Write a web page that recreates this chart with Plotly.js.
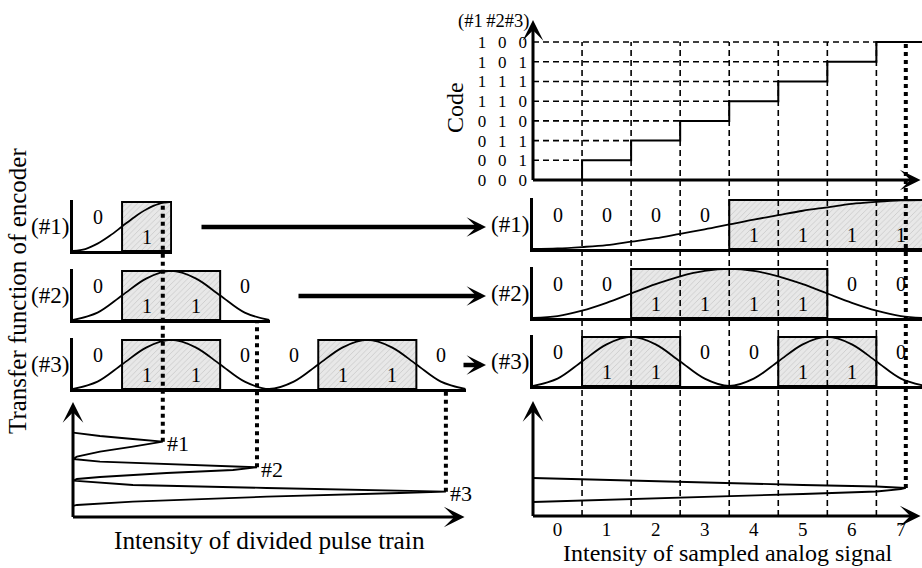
<!DOCTYPE html>
<html>
<head>
<meta charset="utf-8">
<script src="https://cdn.plot.ly/plotly-3.0.1.min.js"></script>
<style>
  html, body { margin: 0; padding: 0; background: #fff; }
  #chart { width: 922px; height: 568px; }
</style>
</head>
<body>
<div id="chart"></div>
<script>
// Sampled signal levels and their 3-bit Gray codes (#1 #2 #3)
const levels = [0, 1, 2, 3, 4, 5, 6, 7];
const codes = ['000', '001', '011', '010', '110', '111', '101', '100'];

// Encoder transfer functions versus sampled analog intensity, every 0.5 level
const gridR = [-0.5, 0, 0.5, 1, 1.5, 2, 2.5, 3, 3.5, 4, 4.5, 5, 5.5, 6, 6.5, 7, 7.5];
const enc1 = [0, 0.01, 0.04, 0.08, 0.15, 0.22, 0.31, 0.40, 0.5, 0.60, 0.69, 0.78, 0.85, 0.92, 0.96, 0.99, 1];
const enc2 = [0, 0.04, 0.15, 0.31, 0.5, 0.69, 0.85, 0.96, 1, 0.96, 0.85, 0.69, 0.5, 0.31, 0.15, 0.04, 0];
const enc3 = [0, 0.15, 0.5, 0.85, 1, 0.85, 0.5, 0.15, 0, 0.15, 0.5, 0.85, 1, 0.85, 0.5, 0.15, 0];

// Encoder transfer functions versus divided pulse intensity
const gridL1 = [-0.5, -0.25, 0, 0.25, 0.5, 0.75, 1, 1.25, 1.5];
const encL1 = [0, 0.04, 0.15, 0.31, 0.5, 0.69, 0.85, 0.96, 1];
const gridL2 = [-0.5, 0, 0.5, 1, 1.5, 2, 2.5, 3, 3.5];
const encL2 = [0, 0.15, 0.5, 0.85, 1, 0.85, 0.5, 0.15, 0];
const gridL3 = gridR;
const encL3 = [0, 0.15, 0.5, 0.85, 1, 0.85, 0.5, 0.15, 0, 0.15, 0.5, 0.85, 1, 0.85, 0.5, 0.15, 0];
const bitsL1 = [0, 1];
const bitsL2 = [0, 1, 1, 0];
const bitsL3 = [0, 1, 1, 0, 0, 1, 1, 0];

// Divided pulse train: intensity (x) against time (t)
const pulseX = [-0.5, 0.05, 0.72, 1.33, 0.72, 0.05, -0.42, -0.5,
                0.05, 1.41, 2.76, 3.25, 2.76, 1.41, 0.05, -0.42, -0.5,
                0.72, 3.45, 6.16, 7.1, 6.16, 3.45, 0.72, -0.42, -0.5];
const pulseT = [84.3, 81, 78, 75.3, 70.3, 65.3, 60.3, 58,
                55.3, 53, 51, 49.7, 47, 44, 40, 38, 36.3,
                32, 29, 26, 25.3, 24, 20.3, 15.3, 12, 11];
const peakNames = ['#1', '#2', '#3'];
const peakX = [1.33, 3.25, 7.1];
const peakT = [75.3, 49.7, 25.3];

// Sampled analog pulse
const sampleX = [-0.5, 1, 3, 5, 6.5, 7.0, 7.1, 7.0, 6.5, 5, 3, 1, -0.5];
const sampleT = [38, 36, 33.5, 31, 29.5, 28.8, 28, 26.8, 24.5, 22, 19, 16.2, 14];
const samplePeakX = 7.1;
const samplePeakT = 28;

// ---------------------------------------------------------------------------
const W = 922, H = 568;
const FONT = 'Liberation Serif, "Times New Roman", serif';
const fx = px => px / W;
const fy = py => 1 - py / H;

// Panel geometry (pixel extents) and axis ranges
const P = {
  code: {id: '',  xpx: [533, 922],   xr: [-0.5, 7.43], ypx: [180, 20],  yr: [0, 8.12]},
  r1:   {id: '2', xpx: [533, 922],   xr: [-0.5, 7.43], ypx: [249, 198], yr: [0, 1.04], frame: true},
  r2:   {id: '3', xpx: [533, 922],   xr: [-0.5, 7.43], ypx: [318, 267], yr: [0, 1.04], frame: true},
  r3:   {id: '4', xpx: [533, 922],   xr: [-0.5, 7.43], ypx: [386, 335], yr: [0, 1.04], frame: true},
  rb:   {id: '5', xpx: [533, 922],   xr: [-0.5, 7.43], ypx: [516, 401], yr: [0, 115]},
  l1:   {id: '6', xpx: [73, 172.1],  xr: [-0.5, 1.52], ypx: [251, 200], yr: [0, 1.04], frame: true},
  l2:   {id: '7', xpx: [73, 270.2],  xr: [-0.5, 3.52], ypx: [320, 269], yr: [0, 1.04], frame: true},
  l3:   {id: '8', xpx: [73, 466.4],  xr: [-0.5, 7.52], ypx: [389, 338], yr: [0, 1.04], frame: true},
  lb:   {id: '9', xpx: [73, 466],    xr: [-0.5, 7.51], ypx: [517, 402], yr: [0, 115]}
};
const xa = p => 'x' + p.id;
const ya = p => 'y' + p.id;
const paperY = (p, v) => fy(p.ypx[0] + (v - p.yr[0]) / (p.yr[1] - p.yr[0]) * (p.ypx[1] - p.ypx[0]));

const layout = {
  width: W, height: H,
  margin: {l: 0, r: 0, t: 0, b: 0},
  paper_bgcolor: '#fff', plot_bgcolor: 'rgba(0,0,0,0)',
  showlegend: false, barmode: 'overlay',
  font: {family: FONT, color: '#000', size: 20},
  shapes: [], annotations: []
};

Object.values(P).forEach(p => {
  const base = {showgrid: false, zeroline: false, showticklabels: false, ticks: '', fixedrange: true,
                showline: !!p.frame, linewidth: 3, linecolor: '#000'};
  layout['xaxis' + p.id] = Object.assign({}, base, {
    domain: [fx(p.xpx[0]), fx(p.xpx[1])], range: p.xr, anchor: ya(p)});
  layout['yaxis' + p.id] = Object.assign({}, base, {
    domain: [fy(p.ypx[0]), fy(p.ypx[1])], range: p.yr, anchor: xa(p)});
});

// Code axis: Gray-code tick labels
layout.yaxis = Object.assign(layout.yaxis, {
  showticklabels: true, tickvals: levels,
  ticktext: codes.map(c => c.split('').join('\u2002\u2009')),
  tickfont: {family: FONT, size: 17, color: '#000'}, ticklabelstandoff: 5
});
// Sampled analog intensity axis
layout.xaxis5 = Object.assign(layout.xaxis5, {
  showticklabels: true, tickvals: levels, ticktext: levels.map(String),
  tickfont: {family: FONT, size: 19, color: '#000'}, ticklabelstandoff: 0
});

// ---------------------------------------------------------------------------
const traces = [];

function runs(bits) {
  const out = [];
  let s = null;
  bits.forEach((b, k) => {
    if (b && s === null) s = k;
    if (!b && s !== null) { out.push([s - 0.5, k - 0.5]); s = null; }
  });
  if (s !== null) out.push([s - 0.5, bits.length - 0.5]);
  return out;
}

function boxTrace(bits, p) {
  const r = runs(bits);
  return {
    type: 'bar', xaxis: xa(p), yaxis: ya(p),
    x: r.map(([a, b]) => (a + b) / 2), y: r.map(() => 1), width: r.map(([a, b]) => b - a), base: 0,
    marker: {color: '#e4e4e4', line: {color: '#000', width: 2},
             pattern: {shape: '/', fgcolor: '#c9c9c9', bgcolor: '#e8e8e8', size: 4, solidity: 0.2}},
    hoverinfo: 'skip'
  };
}

function curveTrace(x, y, p, shape) {
  return {type: 'scatter', mode: 'lines', xaxis: xa(p), yaxis: ya(p), x, y,
          line: {color: '#000', width: 1.8, shape: shape || 'spline', smoothing: 1},
          cliponaxis: false, hoverinfo: 'skip'};
}

const bitOf = (k, e) => Number(codes[k][e]);
const rightPanels = [P.r1, P.r2, P.r3];
const rightCurves = [enc1, enc2, enc3];
rightPanels.forEach((p, e) => {
  const bits = levels.map(k => bitOf(k, e));
  traces.push(boxTrace(bits, p));
  traces.push(curveTrace(gridR, rightCurves[e], p));
  bits.forEach((b, k) => layout.annotations.push({
    xref: xa(p), yref: ya(p), x: levels[k], y: b ? 0.28 : 0.7, text: String(b),
    showarrow: false, font: {family: FONT, size: 20, color: '#000'}
  }));
});

const leftPanels = [P.l1, P.l2, P.l3];
const leftBits = [bitsL1, bitsL2, bitsL3];
const leftGrids = [gridL1, gridL2, gridL3];
const leftCurves = [encL1, encL2, encL3];
leftPanels.forEach((p, e) => {
  traces.push(boxTrace(leftBits[e], p));
  traces.push(curveTrace(leftGrids[e], leftCurves[e], p));
  leftBits[e].forEach((b, k) => layout.annotations.push({
    xref: xa(p), yref: ya(p), x: k, y: b ? 0.28 : 0.7, text: String(b),
    showarrow: false, font: {family: FONT, size: 20, color: '#000'}
  }));
});

// Quantizer staircase
traces.push({type: 'scatter', mode: 'lines', xaxis: 'x', yaxis: 'y',
  x: levels.concat([7.5]), y: levels.concat([levels[levels.length - 1]]),
  line: {color: '#000', width: 2, shape: 'hvh'}, hoverinfo: 'skip'});

// Pulse trains
traces.push(curveTrace(pulseX, pulseT, P.lb, 'linear'));
traces.push(curveTrace(sampleX, sampleT, P.rb, 'linear'));

// ---------------------------------------------------------------------------
// Dashed guides of the code axis
const thinDash = {color: '#000', width: 1.6, dash: '6px,4px'};
levels.slice(1).forEach(k => {
  layout.shapes.push({type: 'line', xref: 'x', yref: 'y', x0: P.code.xr[0], x1: k - 0.5, y0: k, y1: k, line: thinDash});
  layout.shapes.push({type: 'line', xref: 'x', yref: 'paper', x0: k - 0.5, x1: k - 0.5,
    y0: paperY(P.rb, 0), y1: paperY(P.code, levels[levels.length - 1]), line: thinDash});
});

// Thick dotted connectors to the pulse peaks
const dotLine = {color: '#000', width: 4, dash: 'dot'};
layout.shapes.push({type: 'line', xref: 'x5', yref: 'paper', x0: samplePeakX, x1: samplePeakX,
  y0: paperY(P.rb, samplePeakT), y1: paperY(P.code, levels[levels.length - 1]), line: dotLine});
const connectorFrom = [paperY(P.l1, 1), paperY(P.l2, 0), paperY(P.l3, 0)];
peakX.forEach((x, i) => layout.shapes.push({type: 'line', xref: 'x9', yref: 'paper', x0: x, x1: x,
  y0: paperY(P.lb, peakT[i]), y1: connectorFrom[i], line: dotLine}));

// Pulse labels
peakNames.forEach((n, i) => layout.annotations.push({
  xref: 'x9', yref: 'y9', x: peakX[i], y: peakT[i], text: n, showarrow: false,
  xanchor: 'left', yanchor: 'middle', xshift: 2, yshift: -2, font: {family: FONT, size: 22, color: '#000'}
}));

// Axis arrows
function axisArrow(p, tip, tail) {
  return {xref: xa(p), yref: ya(p), axref: xa(p), ayref: ya(p), x: tip[0], y: tip[1], ax: tail[0], ay: tail[1],
          text: '', showarrow: true, arrowhead: 3, arrowsize: 1.15, arrowwidth: 3, arrowcolor: '#000', standoff: 0};
}
[P.code, P.rb, P.lb].forEach(p => {
  const ex = (p.xr[1] - p.xr[0]) * 1.5 / (p.xpx[1] - p.xpx[0]);
  const ey = (p.yr[1] - p.yr[0]) * 1.5 / (p.ypx[0] - p.ypx[1]);
  layout.annotations.push(axisArrow(p, [p.xr[0], p.yr[1]], [p.xr[0], p.yr[0] - ey]));
  layout.annotations.push(axisArrow(p, [p.xr[1] - 0.03, p.yr[0]], [p.xr[0] - ex, p.yr[0]]));
});

// Encoder labels and routing arrows
const encLabels = ['(#1)', '(#2)', '(#3)'];
const arrowTails = [200, 297, 462];
const arrowRows = [227, 296, 365];
encLabels.forEach((t, i) => {
  const lp = leftPanels[i], rp = rightPanels[i];
  layout.annotations.push({xref: 'paper', yref: 'paper', x: fx(70.5), y: (fy(lp.ypx[0]) + fy(lp.ypx[1] + 2)) / 2,
    text: t, showarrow: false, xanchor: 'right', yanchor: 'middle', font: {family: FONT, size: 23, color: '#000'}});
  layout.annotations.push({xref: 'paper', yref: 'paper', x: fx(531), y: (fy(rp.ypx[0]) + fy(rp.ypx[1] + 2)) / 2,
    text: t, showarrow: false, xanchor: 'right', yanchor: 'middle', font: {family: FONT, size: 23, color: '#000'}});
  layout.annotations.push({xref: 'paper', yref: 'paper', x: fx(486), y: fy(arrowRows[i]),
    ax: -(486 - arrowTails[i]), ay: 0, text: '', showarrow: true,
    arrowhead: 3, arrowsize: 0.72, arrowwidth: 4.5, arrowcolor: '#000', standoff: 0});
});

// Titles
const titleFont = s => ({family: FONT, size: s, color: '#000'});
layout.annotations.push({xref: 'paper', yref: 'paper', x: fx(532), y: fy(21), text: '(#1\u2009#2#3)',
  showarrow: false, xanchor: 'right', yanchor: 'middle', font: titleFont(18.5)});
layout.annotations.push({xref: 'paper', yref: 'paper', x: fx(455), y: fy(108), text: 'Code', textangle: -90,
  showarrow: false, xanchor: 'center', yanchor: 'middle', font: titleFont(24)});
layout.annotations.push({xref: 'paper', yref: 'paper', x: fx(17), y: fy(291), text: 'Transfer function of encoder',
  textangle: -90, showarrow: false, xanchor: 'center', yanchor: 'middle', font: titleFont(25)});
layout.annotations.push({xref: 'x9 domain', yref: 'paper', x: 0.5, y: fy(540), text: 'Intensity of divided pulse train',
  showarrow: false, xanchor: 'center', yanchor: 'middle', font: titleFont(25.3)});
layout.annotations.push({xref: 'x5 domain', yref: 'paper', x: 0.5, y: fy(553), text: 'Intensity of sampled analog signal',
  showarrow: false, xanchor: 'center', yanchor: 'middle', font: titleFont(24)});

Plotly.newPlot('chart', traces, layout, {staticPlot: true, displayModeBar: false});
</script>
</body>
</html>
